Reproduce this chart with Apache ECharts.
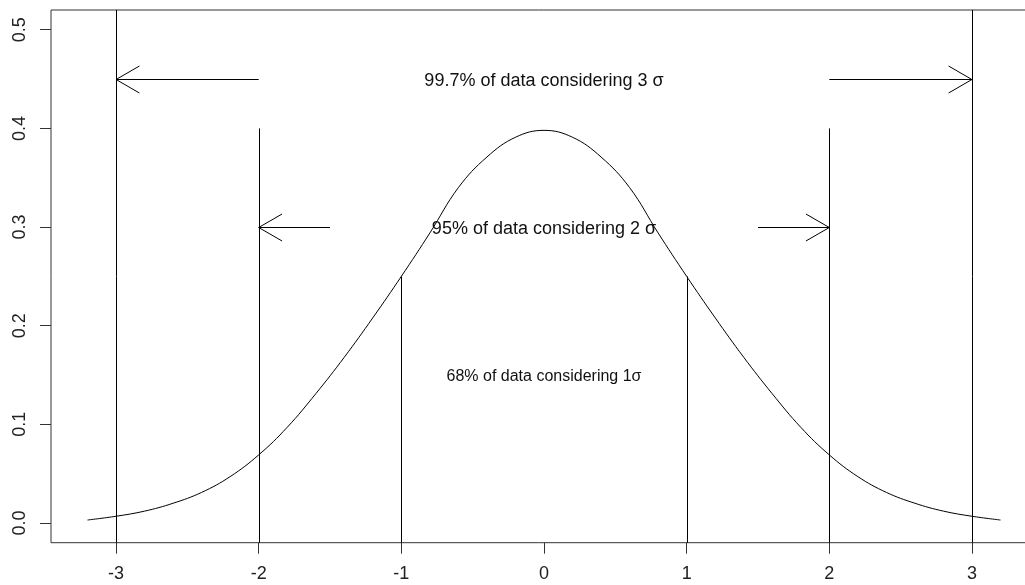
<!DOCTYPE html>
<html>
<head>
<meta charset="utf-8">
<script src="https://cdn.jsdelivr.net/npm/echarts@6/dist/echarts.min.js"></script>
<style>
  html, body { margin: 0; padding: 0; background: #fff; }
  #chart { width: 1025px; height: 585px; }
</style>
</head>
<body>
<div id="chart"></div>
<script>
// Normal density curve (x, density)
const curveX = [-3.2, -3.0, -2.8, -2.6, -2.4, -2.2, -2.0, -1.8, -1.6, -1.4, -1.2, -1.0, -0.8, -0.6, -0.4, -0.2,
                 0.0, 0.2, 0.4, 0.6, 0.8, 1.0, 1.2, 1.4, 1.6, 1.8, 2.0, 2.2, 2.4, 2.6, 2.8, 3.0, 3.2];
const curveY = [0.0030, 0.0068, 0.012, 0.020, 0.031, 0.047, 0.069, 0.097, 0.131, 0.168, 0.208, 0.250, 0.294, 0.340, 0.371, 0.391,
                0.398, 0.391, 0.371, 0.340, 0.294, 0.250, 0.208, 0.168, 0.131, 0.097, 0.069, 0.047, 0.031, 0.020, 0.012, 0.0068, 0.0030];

// Vertical reference segments: x and upper end (lower end at the frame)
const segX    = [-3, 3, -2, 2, -1, 1];
const segTop  = [0.52, 0.52, 0.40, 0.40, 0.25, 0.25];
const segBase = -0.02;

// Arrows: tail x, shaft height, head x
const arrowTail = [-2, 2, -1.5, 1.5];
const arrowHead = [-3, 3, -2, 2];
const arrowY    = [0.45, 0.45, 0.30, 0.30];

// Annotations
const noteText = ['99.7% of data considering 3 \u03c3', '95% of data considering 2 \u03c3', '68% of data considering 1\u03c3'];
const noteX = [0, 0, 0];
const noteY = [0.45, 0.30, 0.15];

// Axis ticks
const xTicks = [-3, -2, -1, 0, 1, 2, 3];
const yTicks = [0.0, 0.1, 0.2, 0.3, 0.4, 0.5];

const noteFontSize = [18, 18, 16];
const FONT = '"Liberation Sans", Arial, sans-serif';
const INK = '#000';

const chart = echarts.init(document.getElementById('chart'), null, { renderer: 'canvas' });

const curveData = curveX.map((x, i) => [x, curveY[i]]);
const segData = segX.map((x, i) => [x, segBase, segTop[i]]);
const arrowData = arrowTail.map((x, i) => [x, arrowY[i], arrowHead[i]]);
const noteData = noteText.map((t, i) => [noteX[i], noteY[i], i]);

const HEAD_LEN = 27;
const HEAD_ANG = Math.PI / 6;

chart.setOption({
  animation: false,
  backgroundColor: '#fff',
  grid: {
    show: true,
    left: 51, top: 10, width: 986, height: 532.7,
    borderColor: '#333', borderWidth: 1,
    backgroundColor: 'transparent',
    containLabel: false,
    outerBoundsMode: 'none'
  },
  xAxis: {
    type: 'value',
    position: 'bottom',
    min: -3.456, max: 3.456,
    axisLine: { show: false, onZero: false },
    splitLine: { show: false },
    axisTick: { show: true, inside: false, length: 11, customValues: xTicks, lineStyle: { color: '#333', width: 1 } },
    axisLabel: {
      show: true, customValues: xTicks, margin: 22,
      fontFamily: FONT, fontSize: 18, color: '#222',
      formatter: v => String(v)
    }
  },
  yAxis: {
    type: 'value',
    position: 'left',
    min: -0.02, max: 0.52,
    axisLine: { show: false, onZero: false },
    splitLine: { show: false },
    axisTick: { show: true, inside: false, length: 11, customValues: yTicks, lineStyle: { color: '#333', width: 1 } },
    axisLabel: {
      show: true, customValues: yTicks, margin: 22, rotate: 90,
      fontFamily: FONT, fontSize: 18, color: '#222',
      formatter: v => v.toFixed(1)
    }
  },
  series: [
    {
      type: 'line',
      data: curveData,
      showSymbol: false,
      smooth: 0.4,
      lineStyle: { color: INK, width: 1 },
      silent: true,
      z: 3
    },
    {
      type: 'custom',
      data: segData,
      silent: true,
      clip: false,
      renderItem: (params, api) => {
        const a = api.coord([api.value(0), api.value(1)]);
        const b = api.coord([api.value(0), api.value(2)]);
        const x = Math.round(a[0]) + 0.5;
        return {
          type: 'line',
          shape: { x1: x, y1: a[1], x2: x, y2: b[1] },
          style: { stroke: INK, lineWidth: 1 }
        };
      },
      z: 4
    },
    {
      type: 'custom',
      data: arrowData,
      silent: true,
      renderItem: (params, api) => {
        const t = api.coord([api.value(0), api.value(1)]);
        const h = api.coord([api.value(2), api.value(1)]);
        const y = Math.round(h[1]) + 0.5;
        const dir = Math.sign(h[0] - t[0]);
        const bx = h[0] - dir * HEAD_LEN * Math.cos(HEAD_ANG);
        const dy = HEAD_LEN * Math.sin(HEAD_ANG);
        return {
          type: 'group',
          children: [
            { type: 'line', shape: { x1: t[0], y1: y, x2: h[0], y2: y }, style: { stroke: INK, lineWidth: 1 } },
            { type: 'polyline', shape: { points: [[bx, y - dy], [h[0], y], [bx, y + dy]] }, style: { stroke: INK, lineWidth: 1, fill: null } }
          ]
        };
      },
      z: 5
    },
    {
      type: 'custom',
      data: noteData,
      silent: true,
      renderItem: (params, api) => {
        const p = api.coord([api.value(0), api.value(1)]);
        const idx = api.value(2);
        return {
          type: 'text',
          x: p[0], y: p[1] + 2,
          style: {
            text: noteText[idx],
            fontFamily: FONT,
            fontSize: noteFontSize[idx],
            fill: '#111',
            align: 'center',
            verticalAlign: 'middle'
          }
        };
      },
      z: 6
    }
  ]
});
</script>
</body>
</html>
